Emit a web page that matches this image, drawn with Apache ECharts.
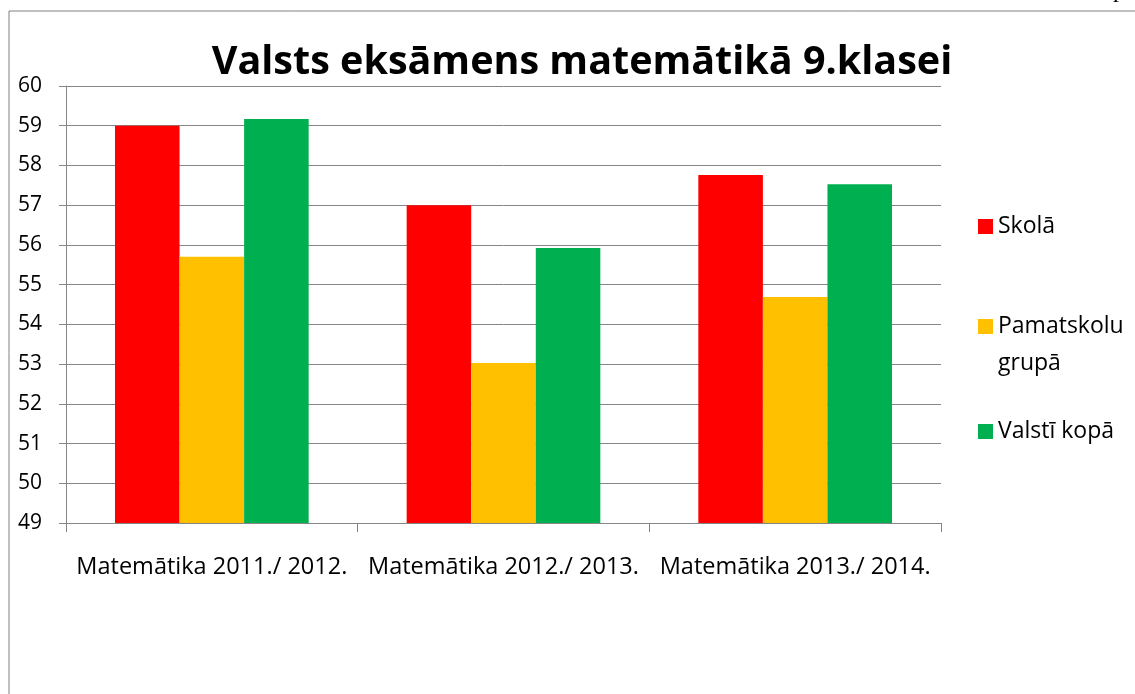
<!DOCTYPE html>
<html>
<head>
<meta charset="utf-8">
<title>Valsts eksāmens matemātikā 9.klasei</title>
<script src="https://cdn.jsdelivr.net/npm/echarts@6/dist/echarts.min.js"></script>
<style>
  html, body { margin: 0; padding: 0; background: #fff; }
  #main { width: 1135px; height: 694px; }
</style>
</head>
<body>
<div id="main"></div>
<script>
// dati
var categories = ['Matemātika 2011./ 2012.', 'Matemātika 2012./ 2013.', 'Matemātika 2013./ 2014.'];
var skola = [59.0, 57.0, 57.76];
var pamatskolu = [55.7, 53.03, 54.69];
var valsti = [59.17, 55.92, 57.53];
var seriesNames = ['Skolā', 'Pamatskolu grupā', 'Valstī kopā'];

var myChart = echarts.init(document.getElementById('main'));

var fontFam = '"Open Sans", "Noto Sans", sans-serif';
var axisGray = '#868686';

// katrai leģendas rindai sava vieta
function legendAt(name, top) {
    return {
        orient: 'vertical',
        left: 978,
        top: top,
        padding: 0,
        data: [name],
        itemWidth: 15,
        itemHeight: 15,
        itemGap: 6,
        icon: 'rect',
        selectedMode: false,
        // tukša pirmā rinda, lai kvadrāts būtu pie pirmās rindas
        formatter: function (n) { return n === 'Pamatskolu grupā' ? '\nPamatskolu\ngrupā' : n; },
        textStyle: { fontFamily: fontFam, fontSize: 23, color: '#000', lineHeight: 37 }
    };
}

var option = {
    animation: false,
    color: ['#FF0000', '#FFC000', '#00B050'],
    title: {
        text: 'Valsts eksāmens matemātikā 9.klasei',
        left: 577,
        textAlign: 'center',
        top: 38,
        textStyle: { fontFamily: fontFam, fontSize: 39.5, fontWeight: 'bold', color: '#000' }
    },
    legend: [
        legendAt(seriesNames[0], 208),
        legendAt(seriesNames[1], 271),
        legendAt(seriesNames[2], 413)
    ],
    grid: { left: 66, right: 194, top: 86, bottom: 171 },
    xAxis: {
        type: 'category',
        data: categories,
        axisLine: { lineStyle: { color: axisGray, width: 1 } },
        axisTick: { show: true, length: 9, lineStyle: { color: axisGray } },
        axisLabel: { color: '#000', fontFamily: fontFam, fontSize: 23.5, margin: 32, interval: 0 }
    },
    yAxis: {
        type: 'value',
        min: 49,
        max: 60,
        interval: 1,
        axisLine: { show: true, lineStyle: { color: axisGray, width: 1 } },
        axisTick: { show: true, length: 7, lineStyle: { color: axisGray } },
        axisLabel: { color: '#000', fontFamily: fontFam, fontSize: 21, margin: 24 },
        splitLine: { lineStyle: { color: axisGray, width: 1 } }
    },
    graphic: [
        {
            type: 'polyline',
            shape: { points: [[9, 694], [9, 11], [1135, 11]] },
            style: { stroke: '#808080', lineWidth: 1, fill: null }
        },
        {
            type: 'text',
            left: 1113,
            top: -21,
            style: { text: 'p', font: '24px "Liberation Serif", serif', fill: '#000' }
        }
    ],
    series: [
        { name: seriesNames[0], type: 'bar', data: skola, barGap: '0%', barCategoryGap: '33.6%' },
        { name: seriesNames[1], type: 'bar', data: pamatskolu, barGap: '0%', barCategoryGap: '33.6%' },
        { name: seriesNames[2], type: 'bar', data: valsti, barGap: '0%', barCategoryGap: '33.6%' }
    ]
};

myChart.setOption(option);
</script>
</body>
</html>
